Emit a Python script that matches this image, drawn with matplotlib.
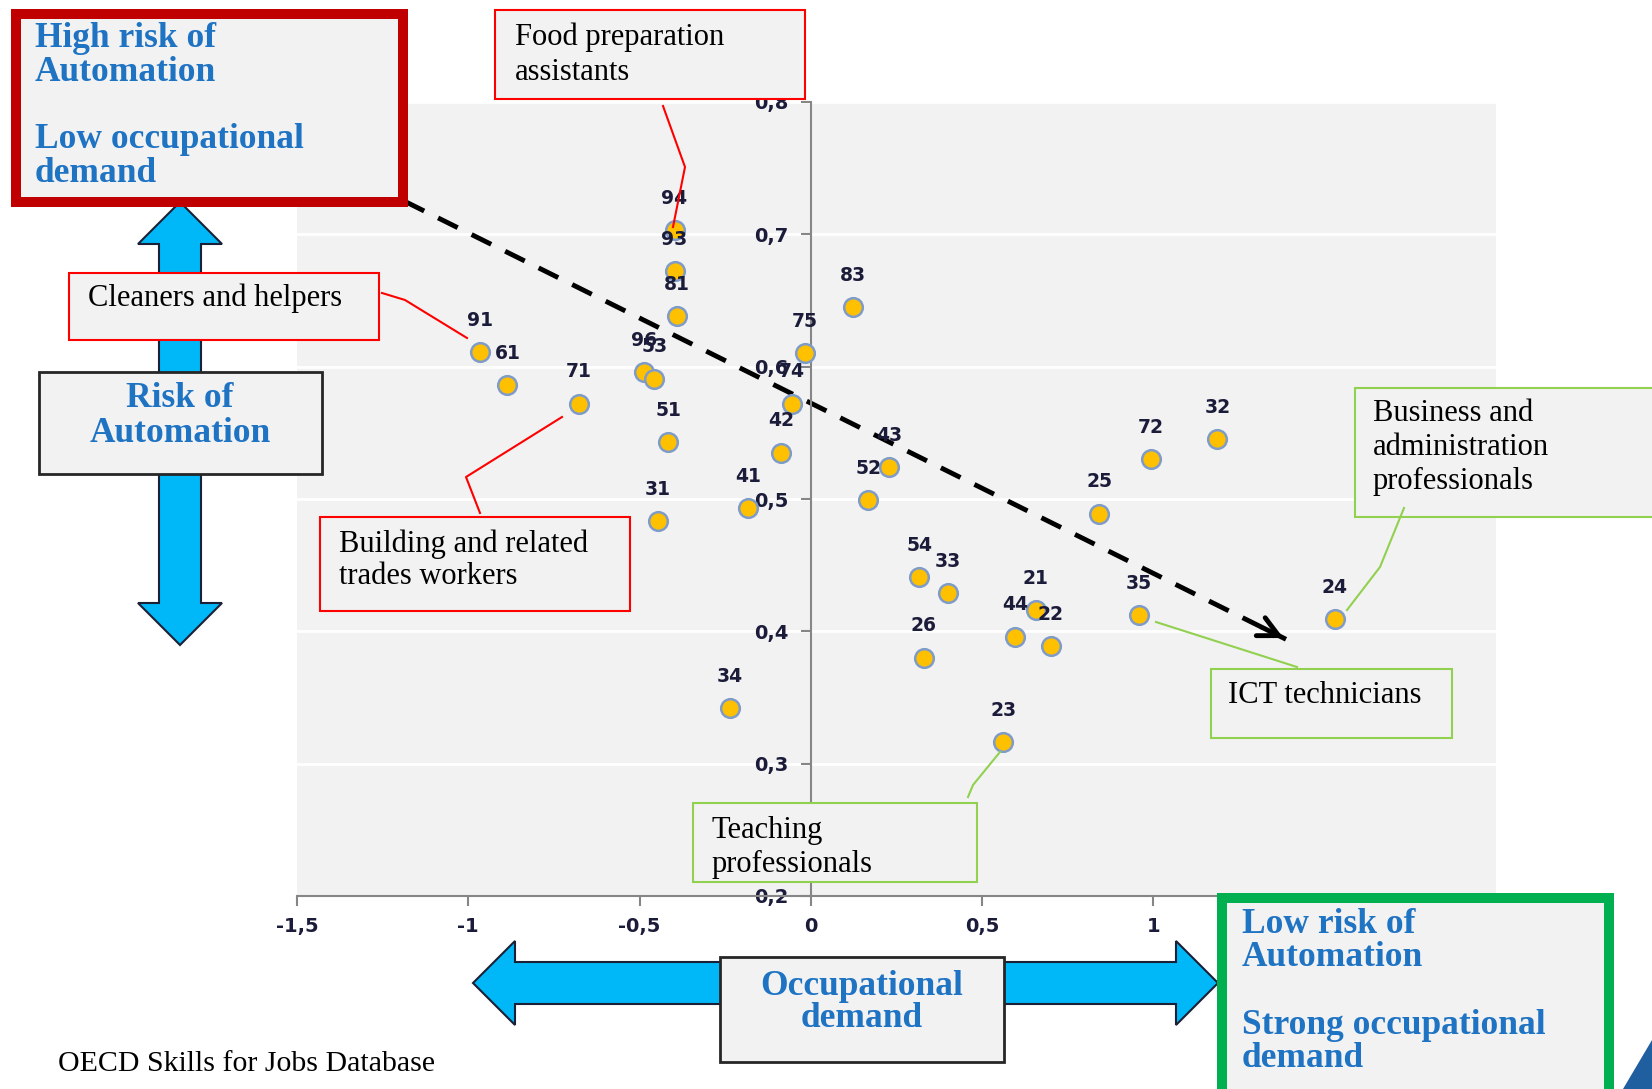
import numpy as np
import matplotlib
matplotlib.use('Agg')
import matplotlib.pyplot as plt
import matplotlib.patches as mpatches
from matplotlib.lines import Line2D

# ISCO 2-digit occupation codes, occupational demand (x) and risk of automation (y)
codes = ['94', '93', '81', '96', '53', '75', '74', '42', '41', '34',
         '51', '31', '71', '91', '61', '83', '43', '52', '54', '33',
         '26', '21', '44', '22', '23', '25', '72', '32', '35', '24']
demand = [-0.398, -0.398, -0.391, -0.486, -0.457, -0.018, -0.056, -0.087, -0.184, -0.236,
          -0.416, -0.447, -0.678, -0.967, -0.886, 0.124, 0.228, 0.167, 0.316, 0.400,
          0.329, 0.657, 0.597, 0.701, 0.562, 0.842, 0.992, 1.187, 0.958, 1.529]
risk = [0.703, 0.672, 0.638, 0.596, 0.591, 0.610, 0.572, 0.535, 0.493, 0.342,
        0.543, 0.483, 0.572, 0.611, 0.586, 0.645, 0.524, 0.499, 0.441, 0.429,
        0.380, 0.416, 0.396, 0.389, 0.316, 0.489, 0.530, 0.545, 0.412, 0.409]

# ticks beyond 1 sit under the green corner box in the original
xticks = [-1.5, -1, -0.5, 0, 0.5, 1]
xtick_labels = ['-1,5', '-1', '-0,5', '0', '0,5', '1']
yticks = [0.2, 0.3, 0.4, 0.5, 0.6, 0.7, 0.8]
ytick_labels = ['0,2', '0,3', '0,4', '0,5', '0,6', '0,7', '0,8']

# trend arrow (from high risk / low demand to low risk / strong demand)
trend_start = (-1.186, 0.725)
trend_end = (1.387, 0.394)

W, H = 1652, 1089
BLUE = '#1F73C3'
SERIF = 'Liberation Serif'
NAVY = '#1b1b3a'


def fp(x, y):
    # pixel position (from top-left) -> figure fraction
    return (x / W, 1 - y / H)


fig = plt.figure(figsize=(W / 100, H / 100), dpi=100)
ax = fig.add_axes([297 / W, 1 - 896 / H, (1496 - 297) / W, (896 - 102) / H])
ax.set_facecolor('#F2F2F2')
ax.set_xlim(-1.5, 2.0)
ax.set_ylim(0.2, 0.8)

ax.set_yticks(yticks)
ax.set_yticklabels(ytick_labels)
ax.set_xticks(xticks)
ax.set_xticklabels(xtick_labels)
ax.yaxis.grid(True, color='white', lw=2)
ax.set_axisbelow(True)
for s in ['top', 'right']:
    ax.spines[s].set_visible(False)
ax.spines['left'].set_position(('data', 0))
ax.spines['left'].set_color('#868686')
ax.spines['bottom'].set_color('#868686')
ax.spines['left'].set_linewidth(1.5)
ax.spines['bottom'].set_linewidth(1.5)
ax.tick_params(axis='both', colors='#868686', labelcolor=NAVY, labelsize=14,
               direction='out', length=7, width=1.5)
ax.tick_params(axis='y', pad=9)
ax.tick_params(axis='x', pad=8)
for lab in ax.get_xticklabels() + ax.get_yticklabels():
    lab.set_fontweight('bold')

ax.scatter(demand, risk, s=180, color='#FFC000', edgecolor='#7F9CC8', lw=1.8, zorder=3)
for c, x, y in zip(codes, demand, risk):
    ax.annotate(c, (x, y), xytext=(0, 19), textcoords='offset points',
                ha='center', va='baseline', fontsize=13.5, fontweight='bold',
                color=NAVY, zorder=4)

# dashed trend arrow
ax.plot([trend_start[0], trend_end[0]], [trend_start[1], trend_end[1]],
        color='black', lw=3.5, dashes=(4.5, 3.2), zorder=2)
dx = trend_end[0] - trend_start[0]
dy = trend_end[1] - trend_start[1]
ax.annotate('', xy=trend_end, xytext=(trend_end[0] - dx * 0.03, trend_end[1] - dy * 0.03),
            arrowprops=dict(arrowstyle='->', lw=3.5, color='black', mutation_scale=36),
            zorder=2)


def double_arrow(x0, x1, c, vertical):
    head, hw, sw = 42, 42, 21
    pts = [(x0, 0), (x0 + head, hw), (x0 + head, sw), (x1 - head, sw), (x1 - head, hw),
           (x1, 0), (x1 - head, -hw), (x1 - head, -sw), (x0 + head, -sw), (x0 + head, -hw)]
    if vertical:
        pts = [fp(c + b, a) for a, b in pts]
    else:
        pts = [fp(a, c + b) for a, b in pts]
    fig.patches.append(mpatches.Polygon(pts, closed=True, transform=fig.transFigure,
                                        facecolor='#00B8F8', edgecolor='#1a2035',
                                        lw=1.5, zorder=2))


double_arrow(202, 645, 180, True)
double_arrow(473, 1218, 983, False)


def box(l, t, r, b, ec, lw):
    fig.patches.append(mpatches.Rectangle(fp(l, b), (r - l) / W, (b - t) / H,
                                          transform=fig.transFigure, facecolor='#F2F2F2',
                                          edgecolor=ec, lw=lw, zorder=3))


def box_text(lines, x, y0, dy, ha='left', **kw):
    for i, line in enumerate(lines):
        if line:
            fig.text(*fp(x, y0 + i * dy), line, ha=ha, va='baseline',
                     family=SERIF, zorder=4, **kw)


def leader(pts, color):
    xs, ys = zip(*[fp(x, y) for x, y in pts])
    fig.lines.append(Line2D(xs, ys, transform=fig.transFigure, color=color, lw=1.5, zorder=5))


# corner boxes
box(16, 14, 403, 202, '#C00000', 7.2)
box_text(['High risk of', 'Automation', '', 'Low occupational', 'demand'],
         35, 47, 33.75, fontsize=25.5, fontweight='bold', color=BLUE)
box(1222, 898, 1609, 1110, '#00B050', 7.2)
box_text(['Low risk of', 'Automation', '', 'Strong occupational', 'demand'],
         1242, 933, 33.5, fontsize=25.5, fontweight='bold', color=BLUE)

# axis title boxes
box(39, 372, 322, 474, '#262626', 2)
box_text(['Risk of', 'Automation'], 180, 407, 35, ha='center',
         fontsize=25.5, fontweight='bold', color=BLUE)
box(720, 957, 1004, 1062, '#262626', 2)
box_text(['Occupational', 'demand'], 862, 995, 32, ha='center',
         fontsize=25.5, fontweight='bold', color=BLUE)

# occupation call-outs
RED, GREEN = '#FF0000', '#92D050'
box(495, 10, 805, 99, RED, 1.5)
box_text(['Food preparation', 'assistants'], 515, 45, 35, fontsize=22, color='black')
leader([(663, 106), (685, 167), (673, 227)], RED)

box(69, 273, 379, 340, RED, 1.5)
box_text(['Cleaners and helpers'], 88, 306, 33, fontsize=22, color='black')
leader([(382, 293), (405, 300), (467, 338)], RED)

box(320, 517, 630, 611, RED, 1.5)
box_text(['Building and related', 'trades workers'], 339, 552, 32, fontsize=22, color='black')
leader([(480, 513), (466, 477), (562, 417)], RED)

box(693, 803, 977, 882, GREEN, 1.5)
box_text(['Teaching', 'professionals'], 712, 838, 34, fontsize=22, color='black')
leader([(968, 797), (973, 785), (1000, 752)], GREEN)

box(1211, 669, 1452, 738, GREEN, 1.5)
box_text(['ICT technicians'], 1228, 703, 33, fontsize=22, color='black')
leader([(1156, 622), (1297, 667)], GREEN)

box(1355, 388, 1665, 517, GREEN, 1.5)
box_text(['Business and', 'administration', 'professionals'], 1373, 421, 34,
         fontsize=22, color='black')
leader([(1404, 508), (1380, 567), (1347, 610)], GREEN)

fig.text(*fp(58, 1071), 'OECD Skills for Jobs Database', ha='left', va='baseline',
         family=SERIF, fontsize=21.5, color='black')

# corner decoration
fig.patches.append(mpatches.Polygon([fp(1623, 1089), fp(1652, 1040), fp(1652, 1089)],
                                    closed=True, transform=fig.transFigure,
                                    facecolor='#1F5F9F', edgecolor='none', zorder=3))

fig.savefig('out.png', dpi=100)
